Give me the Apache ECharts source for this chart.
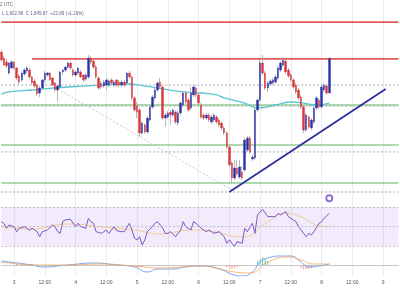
<!DOCTYPE html>
<html>
<head>
<meta charset="utf-8">
<script src="https://cdn.jsdelivr.net/npm/echarts@6/dist/echarts.min.js"></script>
<style>
  html, body { margin: 0; padding: 0; background: #fff; }
  #main { width: 400px; height: 300px; }
</style>
</head>
<body>
<div id="main"></div>
<script>
// hourly candles, day 2 19:00 -> day 8 03:00 (ETH/USD, 1h)
const opens = [
  1850.3, 1846.3, 1843.7, 1836.3, 1839.7, 1843.7, 1839.7, 1834.3, 1831.7, 1835.7,
  1837.7, 1838.3, 1833.7, 1831, 1828.3, 1823, 1826.3, 1831.7, 1835, 1836.3,
  1833, 1829.7, 1825, 1827, 1837, 1838.3, 1840.3, 1843, 1838.3, 1835,
  1836.3, 1837, 1835, 1832.3, 1833.7, 1846.3, 1844.3, 1840.3, 1833, 1829.7,
  1827.7, 1828.3, 1828.3, 1831.7, 1828.3, 1831.7, 1830.3, 1828.3, 1830.3, 1829.7,
  1836.3, 1833.7, 1819.7, 1814.3, 1811.7, 1796.3, 1801.7, 1797, 1805, 1813.7,
  1819.7, 1825, 1830.3, 1827, 1806.3, 1807, 1810.3, 1808.3, 1810.3, 1803,
  1809.7, 1815, 1823, 1818.3, 1813, 1821.7, 1826.3, 1821.7, 1815, 1808.3,
  1806.3, 1808.3, 1803.7, 1805, 1807, 1805, 1803, 1799.7, 1796.3, 1787,
  1776.3, 1766.3, 1773, 1767, 1770.3, 1771.7, 1785, 1793, 1779, 1779.7,
  1811.7, 1818.3, 1843, 1836.3, 1826.3, 1829, 1829.7, 1830.3, 1833, 1838.3,
  1841.7, 1844.3, 1838.3, 1835, 1831.7, 1828.3, 1825, 1820.3, 1813.7, 1798.3,
  1807, 1799.7, 1803.7, 1813, 1818.3, 1813.7, 1825, 1827.7, 1823
];
const closes = [
  1845, 1841.7, 1841, 1843, 1843.7, 1839.7, 1833, 1830.3, 1836.3, 1838.3,
  1839.7, 1833.7, 1829.7, 1827.7, 1822.3, 1826.3, 1831.7, 1836.3, 1836.3, 1831.7,
  1828.3, 1825, 1827.7, 1837, 1838.3, 1840.3, 1843, 1839.7, 1835, 1837,
  1839.7, 1833.7, 1831.7, 1835, 1846.3, 1843.7, 1840.3, 1833.7, 1826.3, 1827,
  1830.3, 1831.7, 1831, 1829.7, 1830.3, 1828.3, 1828.3, 1830.3, 1828.3, 1836.3,
  1833.7, 1819.7, 1811.7, 1810.3, 1796.3, 1803, 1797, 1806.3, 1813.7, 1820.3,
  1825, 1829.7, 1827, 1806.3, 1808.3, 1809.7, 1808.3, 1811.7, 1803.7, 1809.7,
  1816.3, 1823, 1817, 1811.7, 1823, 1827, 1821.7, 1816.3, 1807, 1806.3,
  1808.3, 1805, 1807, 1808.3, 1803.7, 1801.7, 1799.7, 1796.3, 1787, 1775,
  1766.3, 1773, 1769, 1773.7, 1766.3, 1791.7, 1793, 1783.7, 1780.3, 1811.7,
  1818.3, 1843, 1836.3, 1826.3, 1829.7, 1831, 1831.7, 1833.7, 1839.7, 1843,
  1845, 1837, 1834.3, 1831.7, 1827, 1823.7, 1819.7, 1813.7, 1798.3, 1808.3,
  1800.3, 1805, 1813, 1819.7, 1813.7, 1827, 1828.3, 1823, 1845.9
];
const lows = [
  1843.7, 1841, 1839.7, 1835, 1839, 1838.3, 1831.7, 1829, 1830.3, 1834.3,
  1836.3, 1832.3, 1828.3, 1826.3, 1821, 1820.3, 1825, 1830.3, 1833.7, 1831,
  1827.7, 1823.7, 1817, 1825.7, 1835, 1837, 1839, 1838.3, 1833.7, 1833.7,
  1835, 1833, 1830.3, 1831, 1832.3, 1842.3, 1839, 1832.3, 1825, 1825.7,
  1826.3, 1825, 1827, 1828.3, 1827, 1827, 1827, 1827, 1827, 1828.3,
  1832.3, 1818.3, 1810.3, 1806.3, 1793.7, 1795, 1795.7, 1795.7, 1803.7, 1812.3,
  1818.3, 1823.7, 1825.7, 1805, 1800.3, 1805.7, 1801.7, 1807, 1802.3, 1801,
  1808.3, 1813.7, 1815.7, 1810.3, 1811.7, 1820.3, 1820.3, 1815, 1805.7, 1805,
  1805, 1803.7, 1802.3, 1803.7, 1802.3, 1800.3, 1798.3, 1795, 1785.7, 1773.7,
  1763, 1765, 1767.7, 1765.7, 1765, 1770.3, 1783.7, 1782.3, 1777.7, 1778.3,
  1810.3, 1817, 1835, 1825, 1823.7, 1827.7, 1828.3, 1829, 1831.7, 1837,
  1840.3, 1835.7, 1833, 1830.3, 1825.7, 1822.3, 1818.3, 1812.3, 1796.3, 1797,
  1799, 1798.3, 1802.3, 1811.7, 1812.3, 1812.3, 1823.7, 1821.7, 1823
];
const highs = [
  1851.7, 1847.7, 1845.7, 1843.7, 1845, 1844.3, 1840.3, 1835.7, 1837.7, 1839.7,
  1841, 1839.7, 1834.3, 1832.3, 1829, 1827.7, 1832.3, 1837.7, 1837, 1837,
  1833.7, 1830.3, 1829, 1837.7, 1839, 1841, 1843.7, 1843.7, 1839.7, 1838.3,
  1840.3, 1838.3, 1835.7, 1836.3, 1848.3, 1847.7, 1845.7, 1841.7, 1834.3, 1831,
  1831.7, 1833, 1832.3, 1833, 1831.7, 1832.3, 1831.7, 1831.7, 1831.7, 1837,
  1837.7, 1834.3, 1821, 1817, 1813, 1804.3, 1803, 1807.7, 1815, 1821.7,
  1826.3, 1831, 1833, 1828.3, 1809.7, 1811, 1811.7, 1813, 1811.7, 1811,
  1817.7, 1824.3, 1824.3, 1819.7, 1827, 1828.3, 1827.7, 1823, 1816.3, 1809.7,
  1809.7, 1809.7, 1808.3, 1809.7, 1808.3, 1806.3, 1804.3, 1801, 1797.7, 1788.3,
  1777.7, 1778.3, 1778.3, 1778.3, 1774.3, 1793, 1794.3, 1794.3, 1781.7, 1813,
  1819.7, 1845, 1848.3, 1837.7, 1831, 1832.3, 1833, 1835, 1841, 1844.3,
  1847, 1845.7, 1839.7, 1836.3, 1833, 1829.7, 1826.3, 1821.7, 1815, 1809.7,
  1808.3, 1806.3, 1814.3, 1821, 1819.7, 1828.3, 1829.7, 1829, 1847
];

// moving average (cyan), read at points
const maIdx = [0, 3, 12, 26, 39, 50, 54, 61, 71, 78, 84, 87, 95, 100, 107, 113, 118, 123, 128];
const maVal = [1822.3, 1823.7, 1825, 1827, 1828.3, 1829, 1828.3, 1826.3, 1823.7, 1823, 1821.7, 1819.7, 1816.3, 1813, 1815, 1817, 1816.3, 1815, 1816.3];

// drawn levels
const redLevels = [1870.3];
const redSegment = { from: 12, value: 1845.7 };
const greenLevels = [1815, 1788.3, 1763];
const dottedLevels = [1828.3, 1814.3, 1783.7, 1757];
const fallLine = [[22, 1825.7], [90, 1758.3]];
const trendLine = [[89, 1757], [150, 1825.7]];

// RSI
const rsiIdx = [0,1,2,3,5,6,7,9,11,12,14,15,16,18,20,21,22,23,24,25,27,29,30,31,33,34,35,36,37,39,40,41,42,44,45,47,48,50,51,52,53,54,55,56,57,59,60,61,63,64,65,66,68,70,71,72,74,75,76,78,80,81,83,85,87,88,89,91,92,94,95,96,98,99,100,102,104,106,107,108,109,111,112,113,115,116,117,119,120,121,122,124,125,126,128];
const rsiVal = [54.9,53.3,48.2,51.5,49.8,44.7,48.2,49.8,46.4,48.2,44.7,39.5,44.7,46.4,51.5,49.8,44.7,43,55.3,56.7,57.4,49.8,53.3,49.8,48.2,58.4,54.9,53.3,44.7,43,44.7,46.4,43,49.8,45.7,44.7,44.7,53.3,46.4,37.9,36.2,39.5,31,36.2,44.7,49.8,53.3,54.9,48.2,43,43,44.7,39.5,46.4,54.9,49.8,46.4,54.9,53.3,48.2,44.7,46.4,43,44.7,39.5,32.8,36.2,29.3,34.4,32.8,48.2,44.7,53.3,43,61.8,67.6,60.1,60.1,60.1,63.5,61.8,65.2,60.1,58.4,54.9,49.8,46.4,39.5,43,41.3,44.7,53.3,54.9,58.4,63.5];
const rsiMaIdx = [0, 12, 26, 39, 52, 62, 74, 83, 94, 104, 111, 117, 123, 128];
const rsiMaVal = [50.5, 47.4, 52.6, 49.5, 46.4, 42.3, 46.4, 44.4, 39.2, 54.6, 63.8, 59.7, 51.5, 49.5];

// MACD
const macdIdx = [0, 12, 16, 26, 36, 45, 52, 57, 61, 67, 72, 78, 85, 91, 94, 98, 101, 104, 109, 113, 117, 120, 124, 128];
const macdVal = [2, 0, -1, 0, 1, 0, -1, -3.5, -2, -2, -1, -0.5, -2, -5, -5.5, -3.5, 1.5, 3.5, 4.5, 4.5, 1.5, -1, -0.5, 0.5];
const sigIdx = [0, 15, 26, 39, 52, 62, 78, 91, 97, 104, 112, 117, 122, 128];
const sigVal = [1.5, 0, 0, 0.5, -0.5, -1.5, -0.5, -3.5, -4, 1.5, 4, 2.5, 0.5, 0.5];
const histIdx = [6, 8, 10, 12, 52, 53, 54, 55, 88, 89, 90, 91, 92, 100, 101, 102, 103, 104, 117, 118, 119, 120, 121, 122];
const histVal = [0.5, 0.5, 0.5, 0.5, -0.5, -1, -1, -1, -1, -1.5, -2, -1.5, -1, 2, 3, 4, 3, 2, -1.5, -2, -2, -2, -1.5, -1];

const tickLabels = ['3', '12:00', '4', '12:00', '5', '12:00', '6', '12:00', '7', '12:00', '8', '12:00', '9'];

// hour categories, day 2 19:00 .. day 9 06:00
const cats = [];
for (let k = 0; k < 156; k++) {
  const h = 19 + k;
  cats.push((2 + Math.floor(h / 24)) + ' ' + String(h % 24).padStart(2, '0') + ':00');
}
const lastCat = cats.length - 1;

const pairs = (idx, val) => idx.map((i, k) => [i, val[k]]);
const ohlc = opens.map((o, i) => [o, closes[i], lows[i], highs[i]]);
const bodies = opens.map((o, i) => [o, closes[i], Math.min(o, closes[i]), Math.max(o, closes[i])]);

const isTick = (i) => i >= 5 && (i - 5) % 12 === 0;
const font = 'Liberation Sans, Arial, sans-serif';

function xAxis(gi, last) {
  return {
    type: 'category', gridIndex: gi, data: cats, boundaryGap: false,
    axisLine: { show: last, lineStyle: { color: '#cfcfcf' } },
    axisTick: { show: false },
    axisLabel: {
      show: last, interval: isTick, fontSize: 5, color: '#555', margin: 4, fontFamily: font,
      formatter: (v, i) => tickLabels[(i - 5) / 12]
    },
    splitLine: { show: true, interval: isTick, lineStyle: { color: '#ececec', width: 1 } }
  };
}

// horizontal level drawn as a plain two-point line
function level(value, from, color, width, type, z) {
  return {
    type: 'line', xAxisIndex: 0, yAxisIndex: 0, z: z, silent: true,
    data: [[from, value], [lastCat, value]], showSymbol: false, color: color,
    lineStyle: { color: color, width: width, type: type }
  };
}

const levelSeries = []
  .concat(greenLevels.map(v => level(v, 0, '#5cb860', 1.1, 'solid', 1)))
  .concat(dottedLevels.map(v => level(v, 0, '#9e9e9e', 0.9, [2, 2], 2)))
  .concat(redLevels.map(v => level(v, 0, '#e15b5b', 1.7, 'solid', 1)))
  .concat([level(redSegment.value, redSegment.from, '#e15b5b', 1.7, 'solid', 1)]);

const chart = echarts.init(document.getElementById('main'), null, { renderer: 'canvas' });

chart.setOption({
  animation: false,
  backgroundColor: '#ffffff',
  grid: [
    { left: 1.28, right: 1.53, top: 0, height: 198, outerBoundsMode: 'none' },
    { left: 1.28, right: 1.53, top: 197.25, height: 58.5, outerBoundsMode: 'none' },
    { left: 1.28, right: 1.53, top: 254, height: 22, outerBoundsMode: 'none' }
  ],
  xAxis: [xAxis(0, false), xAxis(1, false), xAxis(2, true)],
  yAxis: [
    { type: 'value', gridIndex: 0, min: 1753, max: 1885, show: false, splitLine: { show: false } },
    { type: 'value', gridIndex: 1, min: 20, max: 80, show: false, splitLine: { show: false } },
    { type: 'value', gridIndex: 2, min: -5.5, max: 5.5, show: false, splitLine: { show: false } }
  ],
  graphic: [
    { type: 'text', left: 0, top: 2, style: { text: '2 UTC', fontSize: 4.5, fill: '#666', fontFamily: font } },
    { type: 'text', left: 2, top: 11, style: { text: 'L 1,822.99  C 1,845.87  +22.89 (+1.26%)', fontSize: 4.5, fill: '#5a5f8c', fontFamily: font } }
  ],
  series: levelSeries.concat([
    {
      name: 'MA', type: 'line', xAxisIndex: 0, yAxisIndex: 0, z: 2,
      data: pairs(maIdx, maVal), smooth: true, showSymbol: false,
      lineStyle: { color: '#58c6d0', width: 1.3 }
    },
    {
      name: 'fall', type: 'line', xAxisIndex: 0, yAxisIndex: 0, z: 1, data: fallLine,
      showSymbol: false, lineStyle: { color: '#bbbbbb', width: 0.8, type: [2, 2] }
    },
    {
      name: 'wicks', type: 'candlestick', xAxisIndex: 0, yAxisIndex: 0, z: 3, clip: false,
      data: ohlc, barWidth: 0.4,
      itemStyle: { color: '#a9a9a9', color0: '#a9a9a9', borderColor: '#a9a9a9', borderColor0: '#a9a9a9', borderWidth: 0.8 }
    },
    {
      name: 'bodies', type: 'candlestick', xAxisIndex: 0, yAxisIndex: 0, z: 4, clip: false,
      data: bodies, barWidth: 2,
      itemStyle: { color: '#2a31a6', color0: '#d9343a', borderColor: '#2a31a6', borderColor0: '#d9343a', borderWidth: 0.4 }
    },
    {
      name: 'trend', type: 'line', xAxisIndex: 0, yAxisIndex: 0, z: 5, data: trendLine,
      showSymbol: false, lineStyle: { color: '#2c2f9f', width: 1.8 }
    },
    {
      name: 'RSI', type: 'line', xAxisIndex: 1, yAxisIndex: 1, z: 3,
      data: pairs(rsiIdx, rsiVal), showSymbol: false,
      lineStyle: { color: '#7e57c2', width: 1 },
      markArea: { silent: true, itemStyle: { color: 'rgba(160,120,225,0.15)' }, data: [[{ yAxis: 30 }, { yAxis: 70 }]] },
      markLine: {
        silent: true, symbol: ['none', 'none'], label: { show: false },
        lineStyle: { color: '#b3adbd', width: 0.8, type: [2, 2] },
        data: [{ yAxis: 70 }, { yAxis: 50 }, { yAxis: 30 }]
      }
    },
    {
      name: 'RSI MA', type: 'line', xAxisIndex: 1, yAxisIndex: 1, z: 2,
      data: pairs(rsiMaIdx, rsiMaVal), smooth: true, showSymbol: false,
      lineStyle: { color: '#f3cf95', width: 1 }
    },
    {
      name: 'alert', type: 'scatter', xAxisIndex: 1, yAxisIndex: 1, z: 6,
      data: [[128, 79]], symbol: 'emptyCircle', symbolSize: 6,
      itemStyle: { color: '#7a4fd0', borderWidth: 1 }
    },
    {
      name: 'hist', type: 'bar', xAxisIndex: 2, yAxisIndex: 2, z: 2, barWidth: 1,
      data: pairs(histIdx, histVal),
      itemStyle: { color: (p) => p.value[1] >= 0 ? '#66c2b4' : '#ef9a94' },
      markLine: {
        silent: true, symbol: ['none', 'none'], label: { show: false },
        lineStyle: { color: '#bdbdbd', width: 0.8, type: [2, 2] }, data: [{ yAxis: 0 }]
      }
    },
    {
      name: 'MACD', type: 'line', xAxisIndex: 2, yAxisIndex: 2, z: 3,
      data: pairs(macdIdx, macdVal), smooth: true, showSymbol: false,
      lineStyle: { color: '#5b8ff0', width: 0.8 }
    },
    {
      name: 'Signal', type: 'line', xAxisIndex: 2, yAxisIndex: 2, z: 3,
      data: pairs(sigIdx, sigVal), smooth: true, showSymbol: false,
      lineStyle: { color: '#f3a35c', width: 0.8 }
    }
  ])
});
</script>
</body>
</html>
